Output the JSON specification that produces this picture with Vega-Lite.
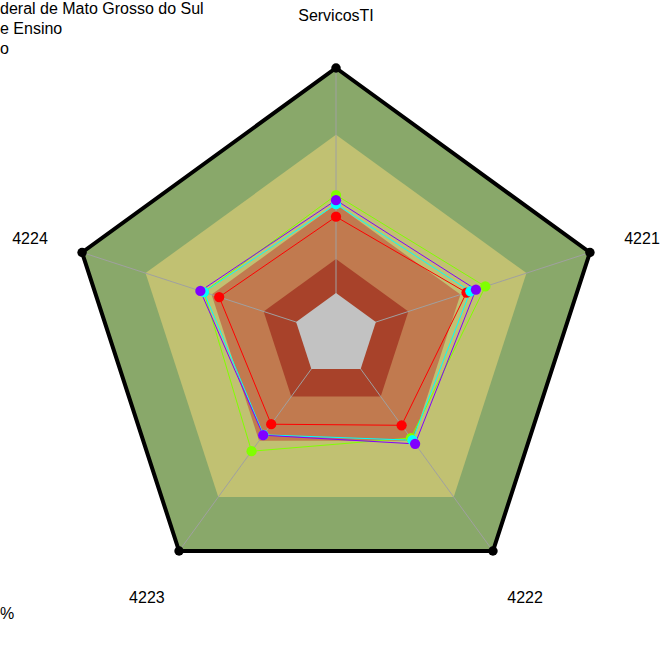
{
  "$schema": "https://vega.github.io/schema/vega-lite/v6.json",
  "width": 661,
  "height": 664,
  "autosize": {"type": "fit", "contains": "padding"},
  "padding": 0,
  "background": "white",
  "config": {"view": {"stroke": null}, "font": "Liberation Sans"},
  "datasets": {
    "axes": [
      {"i": 0, "axis": "ServicosTI"},
      {"i": 1, "axis": "4221"},
      {"i": 2, "axis": "4222"},
      {"i": 3, "axis": "4223"},
      {"i": 4, "axis": "4224"}
    ],
    "bands": [
      {"band": "b1", "level": 100, "i": [0, 1, 2, 3, 4]},
      {"band": "b2", "level": 75, "i": [0, 1, 2, 3, 4]},
      {"band": "b3", "level": 49, "i": [0, 1, 2, 3, 4]},
      {"band": "b4", "level": 28.5, "i": [0, 1, 2, 3, 4]}
    ],
    "core": [
      {"band": "b5", "level": 15.7, "i": [0, 1, 2, 3, 4]}
    ],
    "series": [
      {"serie": "s1", "i": 0, "value": 44.3},
      {"serie": "s1", "i": 1, "value": 51.4},
      {"serie": "s1", "i": 2, "value": 41.8},
      {"serie": "s1", "i": 3, "value": 41.3},
      {"serie": "s1", "i": 4, "value": 46.0},
      {"serie": "s2", "i": 0, "value": 52.4},
      {"serie": "s2", "i": 1, "value": 58.8},
      {"serie": "s2", "i": 2, "value": 47.7},
      {"serie": "s2", "i": 3, "value": 53.8},
      {"serie": "s2", "i": 4, "value": 52.0},
      {"serie": "s3", "i": 0, "value": 49.0},
      {"serie": "s3", "i": 1, "value": 52.9},
      {"serie": "s3", "i": 2, "value": 48.7},
      {"serie": "s3", "i": 3, "value": 46.2},
      {"serie": "s3", "i": 4, "value": 52.0},
      {"serie": "s4", "i": 0, "value": 50.5},
      {"serie": "s4", "i": 1, "value": 55.1},
      {"serie": "s4", "i": 2, "value": 50.4},
      {"serie": "s4", "i": 3, "value": 46.4},
      {"serie": "s4", "i": 4, "value": 53.4}
    ],
    "notes": [
      {"t": "deral de Mato Grosso do Sul", "line": 0},
      {"t": "e Ensino", "line": 1},
      {"t": "o", "line": 2},
      {"t": "%", "line": 30.25}
    ]
  },
  "encoding": {
    "x": {"field": "x", "type": "quantitative", "scale": {"domain": [-1.2584, 1.2172], "nice": false, "zero": false}, "axis": null},
    "y": {"field": "y", "type": "quantitative", "scale": {"domain": [-1.2322, 1.2547], "nice": false, "zero": false}, "axis": null}
  },
  "layer": [
    {
      "data": {"name": "bands"},
      "transform": [
        {"flatten": ["i"]},
        {"calculate": "datum.level / 100 * sin(datum.i * 2 * PI / 5)", "as": "x"},
        {"calculate": "datum.level / 100 * cos(datum.i * 2 * PI / 5)", "as": "y"}
      ],
      "mark": {"type": "line", "interpolate": "linear-closed", "strokeWidth": 0},
      "encoding": {
        "order": {"field": "i", "type": "quantitative"},
        "detail": {"field": "band"},
        "fill": {"field": "band", "type": "nominal", "legend": null,
          "scale": {"domain": ["b1", "b2", "b3", "b4", "b5"], "range": ["#89a86a", "#c1c172", "#c17a4f", "#a8422a", "#c2c2c2"]}}
      }
    },
    {
      "data": {"name": "axes"},
      "transform": [
        {"calculate": "sin(datum.i * 2 * PI / 5)", "as": "x"},
        {"calculate": "cos(datum.i * 2 * PI / 5)", "as": "y"}
      ],
      "mark": {"type": "rule", "color": "#a0a0a0", "strokeWidth": 1},
      "encoding": {"x2": {"datum": 0}, "y2": {"datum": 0}}
    },
    {
      "data": {"name": "core"},
      "transform": [
        {"flatten": ["i"]},
        {"calculate": "datum.level / 100 * sin(datum.i * 2 * PI / 5)", "as": "x"},
        {"calculate": "datum.level / 100 * cos(datum.i * 2 * PI / 5)", "as": "y"}
      ],
      "mark": {"type": "line", "interpolate": "linear-closed", "strokeWidth": 0},
      "encoding": {
        "order": {"field": "i", "type": "quantitative"},
        "fill": {"field": "band", "type": "nominal", "legend": null,
          "scale": {"domain": ["b1", "b2", "b3", "b4", "b5"], "range": ["#89a86a", "#c1c172", "#c17a4f", "#a8422a", "#c2c2c2"]}}
      }
    },
    {
      "data": {"name": "axes"},
      "transform": [
        {"calculate": "sin(datum.i * 2 * PI / 5)", "as": "x"},
        {"calculate": "cos(datum.i * 2 * PI / 5)", "as": "y"}
      ],
      "mark": {"type": "line", "interpolate": "linear-closed", "color": "black", "strokeWidth": 4},
      "encoding": {"order": {"field": "i", "type": "quantitative"}}
    },
    {
      "data": {"name": "axes"},
      "transform": [
        {"calculate": "sin(datum.i * 2 * PI / 5)", "as": "x"},
        {"calculate": "cos(datum.i * 2 * PI / 5)", "as": "y"}
      ],
      "mark": {"type": "point", "filled": true, "color": "black", "size": 90, "opacity": 1},
      "encoding": {}
    },
    {
      "data": {"name": "series"},
      "transform": [
        {"calculate": "datum.value / 100 * sin(datum.i * 2 * PI / 5)", "as": "x"},
        {"calculate": "datum.value / 100 * cos(datum.i * 2 * PI / 5)", "as": "y"}
      ],
      "mark": {"type": "line", "interpolate": "linear-closed", "strokeWidth": 1},
      "encoding": {
        "order": {"field": "i", "type": "quantitative"},
        "color": {"field": "serie", "type": "nominal", "legend": null,
          "scale": {"domain": ["s1", "s2", "s3", "s4"], "range": ["#ff0000", "#80ff00", "#00ffff", "#8000ff"]}}
      }
    },
    {
      "data": {"name": "series"},
      "transform": [
        {"calculate": "datum.value / 100 * sin(datum.i * 2 * PI / 5)", "as": "x"},
        {"calculate": "datum.value / 100 * cos(datum.i * 2 * PI / 5)", "as": "y"}
      ],
      "mark": {"type": "point", "filled": true, "size": 105, "opacity": 1},
      "encoding": {
        "color": {"field": "serie", "type": "nominal", "legend": null,
          "scale": {"domain": ["s1", "s2", "s3", "s4"], "range": ["#ff0000", "#80ff00", "#00ffff", "#8000ff"]}}
      }
    },
    {
      "data": {"name": "axes"},
      "transform": [
        {"calculate": "1.205 * sin(datum.i * 2 * PI / 5)", "as": "x"},
        {"calculate": "1.205 * cos(datum.i * 2 * PI / 5)", "as": "y"}
      ],
      "mark": {"type": "text", "fontSize": 16, "color": "black", "baseline": "middle", "align": "center", "dy": 3},
      "encoding": {"text": {"field": "axis"}}
    },
    {
      "data": {"name": "notes"},
      "transform": [
        {"calculate": "-1.2584", "as": "x"},
        {"calculate": "1.2022 - datum.line * 20 / 267", "as": "y"}
      ],
      "mark": {"type": "text", "fontSize": 16, "color": "black", "align": "left", "baseline": "alphabetic"},
      "encoding": {
        "text": {"field": "t"}
      }
    }
  ]
}
